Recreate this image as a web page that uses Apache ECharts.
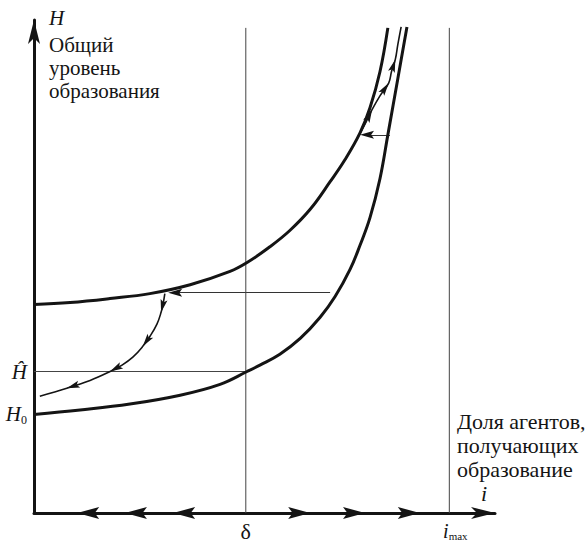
<!DOCTYPE html>
<html><head><meta charset="utf-8">
<script src="https://cdn.jsdelivr.net/npm/echarts@6/dist/echarts.min.js"></script>
<style>html,body{margin:0;padding:0;background:#fff}#c{width:586px;height:542px}</style>
</head><body><div id="c"></div>
<script>
// ---------- data (arbitrary units: i_max = 100, y-axis top = 100) ----------
const DELTA = 51;
const I_MAX = 100;
const H0 = 20;
const H_HAT = 28.7;
const X_END = 111;
const Y_END = 100;
const GUIDE_TOP = 98.4;

// upper curve
const upperX = [0, 8.7, 18.3, 27.9, 37.6, 47.2, 51.3, 56.8, 61.6, 66.5, 71.3, 74.9, 78.5, 80.9, 83.3, 85.2];
const upperY = [42.3, 42.7, 43.5, 44.5, 46.3, 49.0, 50.8, 54.0, 57.3, 61.6, 67.2, 71.7, 77.1, 82.2, 89.5, 98.4];
// lower curve
const lowerX = [0, 11.1, 23.1, 35.2, 44.8, 51.3, 54.4, 59.2, 64.1, 68.9, 72.5, 76.1, 78.5, 80.9, 83.3, 85.2, 87.6, 89.8];
const lowerY = [20.0, 20.9, 22.1, 23.9, 26.1, 28.7, 30.0, 32.2, 35.4, 39.7, 43.9, 49.4, 54.3, 59.9, 67.8, 76.7, 88.1, 98.6];
// trajectory going up (upper right)
const pathHiX = [78.3, 79.7, 81.4, 83.3, 85.4, 86.1, 87.0, 87.6, 88.4];
const pathHiY = [76.7, 78.9, 81.8, 84.6, 87.2, 89.6, 92.0, 95.0, 98.6];
const pathHiArrowAt = [2, 4, 6];
// trajectory going down (lower left)
const pathLoX = [31.5, 31.1, 30.6, 29.6, 27.9, 26.2, 23.8, 21.2, 18.3, 13.5, 7.9, 1.4];
const pathLoY = [44.5, 42.5, 40.7, 38.3, 35.8, 33.8, 31.6, 30.0, 28.7, 26.9, 25.3, 23.7];
const pathLoArrowAt = [2, 5, 8, 10];
// horizontal jumps (from lower curve to upper curve)
const jumpFromX = [71.3, 85.7];
const jumpToX = [32.3, 78.5];
const jumpY = [44.7, 76.7];
// arrows along the i axis
const axisArrowTipX = [10.4, 21.9, 33.5, 66.5, 79.7, 92.9];
const axisArrowDir = [-1, -1, -1, 1, 1, 1];

// ---------- build ----------
const FONT = "'Liberation Serif', 'DejaVu Serif', serif";
const INK = '#141414';
const zip = (xs, ys) => xs.map((x, i) => [x, ys[i]]);
function arrowsOnPath(xs, ys, idx) {
  return idx.map(k => [xs[k - 1], ys[k - 1], xs[k], ys[k]]);
}
function arrowHead(len, wid, color) {
  return function (params, api) {
    const a = api.coord([api.value(0), api.value(1)]);
    const b = api.coord([api.value(2), api.value(3)]);
    const dx = b[0] - a[0], dy = b[1] - a[1];
    const L = Math.hypot(dx, dy) || 1;
    const ux = dx / L, uy = dy / L, px = -uy, py = ux;
    const pts = [
      [b[0], b[1]],
      [b[0] - ux * len + px * wid / 2, b[1] - uy * len + py * wid / 2],
      [b[0] - ux * len * 0.8, b[1] - uy * len * 0.8],
      [b[0] - ux * len - px * wid / 2, b[1] - uy * len - py * wid / 2]
    ];
    return { type: 'polygon', shape: { points: pts }, style: { fill: color } };
  };
}

const curveArrows = arrowsOnPath(pathHiX, pathHiY, pathHiArrowAt)
  .concat(arrowsOnPath(pathLoX, pathLoY, pathLoArrowAt));
const jumpArrows = jumpFromX.map((x, i) => [x, jumpY[i], jumpToX[i], jumpY[i]]);
const axisArrows = axisArrowTipX.map((x, i) => [x - axisArrowDir[i], 0, x, 0]);

const chart = echarts.init(document.getElementById('c'), null, { renderer: 'svg' });
const option = {
  animation: false,
  backgroundColor: '#fff',
  title: [
    { text: 'H', left: 49, top: 7, padding: 0,
      textStyle: { fontFamily: FONT, fontStyle: 'italic', fontWeight: 'normal', fontSize: 21, lineHeight: 22, color: INK } },
    { text: 'Общий\nуровень\nобразования', left: 49, top: 33, padding: 0,
      textStyle: { fontFamily: FONT, fontWeight: 'normal', fontSize: 21, lineHeight: 23, color: INK } },
    { text: 'Доля агентов,\nполучающих\nобразование', left: 457, top: 409, padding: 0,
      textStyle: { fontFamily: FONT, fontWeight: 'normal', fontSize: 22, lineHeight: 24, color: INK } },
    { text: 'i', left: 481, top: 481, padding: 0,
      textStyle: { fontFamily: FONT, fontStyle: 'italic', fontWeight: 'normal', fontSize: 22, lineHeight: 24, color: INK } }
  ],
  grid: { left: 34, right: 91, top: 20, bottom: 28, containLabel: false },
  xAxis: {
    type: 'value', min: 0, max: X_END,
    splitLine: { show: false },
    axisTick: { show: false },
    axisLine: { show: true, symbol: ['none', 'arrow'], symbolSize: [9, 24],
      lineStyle: { color: INK, width: 3 } },
    axisLabel: {
      show: true, customValues: [DELTA, I_MAX], margin: 7,
      formatter: v => Math.abs(v - DELTA) < 0.01 ? '{d|δ}' : '{i|i}{s|max}',
      rich: {
        d: { fontFamily: FONT, fontSize: 22, color: INK },
        i: { fontFamily: FONT, fontStyle: 'italic', fontSize: 20, color: INK, padding: [0, 0, 0, 12] },
        s: { fontFamily: FONT, fontSize: 11, color: INK, padding: [10, 0, 0, 0] }
      }
    }
  },
  yAxis: {
    type: 'value', min: 0, max: Y_END,
    splitLine: { show: false },
    axisTick: { show: false },
    axisLine: { show: true, symbol: ['none', 'arrow'], symbolSize: [9, 24],
      lineStyle: { color: INK, width: 3 } },
    axisLabel: {
      show: true, customValues: [H0, H_HAT], margin: 7,
      formatter: v => Math.abs(v - H0) < 0.01 ? '{i|H}{s|0}' : '{i|Ĥ}',
      rich: {
        i: { fontFamily: FONT, fontStyle: 'italic', fontSize: 21, color: INK },
        s: { fontFamily: FONT, fontSize: 12, color: INK, padding: [12, 0, 0, 0] }
      }
    }
  },
  series: [
    { type: 'line', data: [[DELTA, 0], [DELTA, GUIDE_TOP]], symbol: 'none', silent: true,
      lineStyle: { color: '#444', width: 1 } },
    { type: 'line', data: [[I_MAX, 0], [I_MAX, GUIDE_TOP]], symbol: 'none', silent: true,
      lineStyle: { color: '#444', width: 1 } },
    { type: 'line', data: [[0, H_HAT], [DELTA, H_HAT]], symbol: 'none', silent: true,
      lineStyle: { color: '#444', width: 1 } },
    { type: 'line', data: zip(upperX, upperY), symbol: 'none', smooth: 0.4,
      lineStyle: { color: INK, width: 3 } },
    { type: 'line', data: zip(lowerX, lowerY), symbol: 'none', smooth: 0.4,
      lineStyle: { color: INK, width: 3 } },
    { type: 'line', data: zip(pathHiX, pathHiY), symbol: 'none', smooth: 0.4,
      lineStyle: { color: INK, width: 1.6 } },
    { type: 'line', data: zip(pathLoX, pathLoY), symbol: 'none', smooth: 0.4,
      lineStyle: { color: INK, width: 1.6 } },
    { type: 'lines', coordinateSystem: 'cartesian2d', polyline: false, silent: true,
      data: jumpArrows.map(d => ({ coords: [[d[0], d[1]], [d[2] + 1, d[3]]] })),
      lineStyle: { color: '#333', width: 1.2, opacity: 1 } },
    { type: 'custom', renderItem: arrowHead(14, 8, INK), data: jumpArrows,
      encode: { x: [0, 2], y: [1, 3] }, clip: false, silent: true },
    { type: 'custom', renderItem: arrowHead(13, 7, INK), data: curveArrows,
      encode: { x: [0, 2], y: [1, 3] }, clip: false, silent: true },
    { type: 'custom', renderItem: arrowHead(22, 12, INK), data: axisArrows,
      encode: { x: [0, 2], y: [1, 3] }, clip: false, silent: true }
  ]
};
chart.setOption(option);
</script>
</body></html>
